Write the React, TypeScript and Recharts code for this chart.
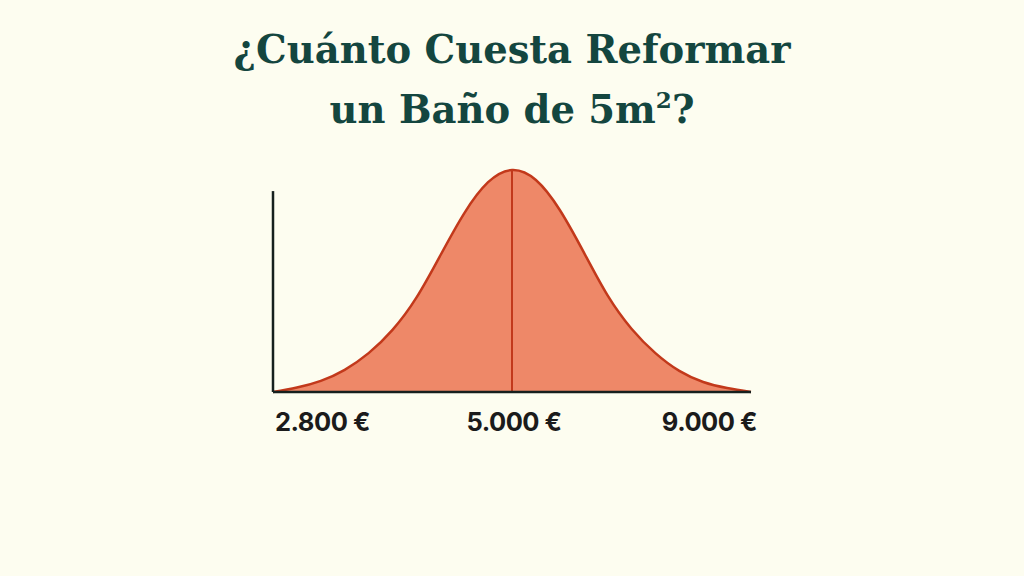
import React from 'react';
import { AreaChart, Area, XAxis, YAxis, ReferenceLine } from 'recharts';

// position along the price range (0 = 2.800 €, 50 = 5.000 €, 100 = 9.000 €)
const positions = [0, 5, 10, 15, 20, 25, 30, 35, 40, 45, 50, 55, 60, 65, 70, 75, 80, 85, 90, 95, 100];
// relative height of the curve (peak = 100)
const heights = [0, 2, 5, 10, 17.5, 28, 42.5, 61.5, 80.5, 94.5, 100, 95.5, 82, 63, 43.5, 28.5, 17.5, 9.5, 4.5, 1.8, 0];
const tickPositions = [0, 50, 100];
const tickLabels = ['2.800 €', '5.000 €', '9.000 €'];
const PEAK = 50;
const Y_AXIS_TOP = 90.5;

const data = positions.map((x, i) => ({ x, h: heights[i] }));

const PriceTick = (props: any) => {
  const { x, y, payload, index } = props;
  const anchor = index === 0 ? 'start' : index === tickPositions.length - 1 ? 'end' : 'middle';
  const dx = index === 0 ? 2 : index === tickPositions.length - 1 ? 6 : 2;
  return (
    <text
      x={x + dx}
      y={y + 31}
      textAnchor={anchor}
      fill="#1b1b1b"
      fontFamily="Inter, 'Open Sans', sans-serif"
      fontWeight={700}
      fontSize={25.5}
      letterSpacing={-0.5}
    >
      {tickLabels[tickPositions.indexOf(payload.value)]}
    </text>
  );
};

export default function App() {
  return (
    <div
      style={{
        position: 'absolute',
        left: 0,
        top: 0,
        width: 1024,
        height: 576,
        background: '#fdfdf0',
        overflow: 'hidden',
      }}
    >
      <div
        style={{
          position: 'absolute',
          left: 0,
          top: 20,
          width: 1024,
          textAlign: 'center',
          fontFamily: "'DejaVu Serif', serif",
          fontWeight: 700,
          fontSize: 38.5,
          lineHeight: '60px',
          color: '#14463f',
        }}
      >
        <div>¿Cuánto Cuesta Reformar</div>
        <div>
          un Baño de 5m<sup style={{ fontSize: 23, verticalAlign: 'top', lineHeight: '40px' }}>2</sup>?
        </div>
      </div>
      <div style={{ position: 'absolute', left: 0, top: 0 }}>
        <AreaChart
          width={1024}
          height={576}
          data={data}
          margin={{ top: 170, bottom: 124, left: 273, right: 273 }}
        >
          <XAxis
            dataKey="x"
            type="number"
            domain={[0, 100]}
            ticks={tickPositions}
            tick={<PriceTick />}
            tickLine={false}
            axisLine={{ stroke: '#16201e', strokeWidth: 2.5 }}
            height={60}
            interval={0}
          />
          <YAxis hide domain={[0, 100]} />
          <Area
            type="natural"
            dataKey="h"
            stroke="#c2391b"
            strokeWidth={2.5}
            fill="#ee8868"
            fillOpacity={1}
            isAnimationActive={false}
          />
          <ReferenceLine x={PEAK} stroke="#c2391b" strokeWidth={2} />
          <ReferenceLine
            segment={[{ x: 0, y: 0 }, { x: 0, y: Y_AXIS_TOP }]}
            stroke="#16201e"
            strokeWidth={2.5}
          />
        </AreaChart>
      </div>
    </div>
  );
}
